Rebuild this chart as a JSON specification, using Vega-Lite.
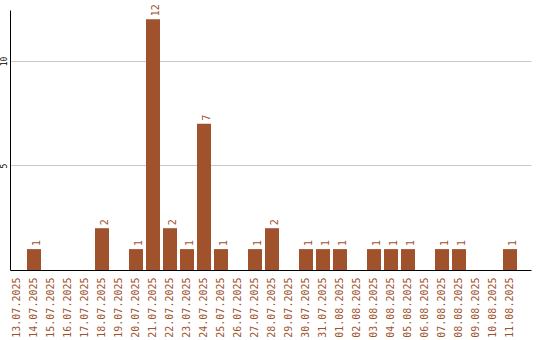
{
  "$schema": "https://vega.github.io/schema/vega-lite/v6.json",
  "width": 521,
  "height": 260,
  "autosize": "none",
  "padding": {"left": 10, "top": 10, "right": 9, "bottom": 70},
  "background": "white",
  "config": {"view": {"stroke": null}, "font": "DejaVu Sans Mono"},
  "data": {
    "values": [
      {"date": "13.07.2025", "count": 0},
      {"date": "14.07.2025", "count": 1},
      {"date": "15.07.2025", "count": 0},
      {"date": "16.07.2025", "count": 0},
      {"date": "17.07.2025", "count": 0},
      {"date": "18.07.2025", "count": 2},
      {"date": "19.07.2025", "count": 0},
      {"date": "20.07.2025", "count": 1},
      {"date": "21.07.2025", "count": 12},
      {"date": "22.07.2025", "count": 2},
      {"date": "23.07.2025", "count": 1},
      {"date": "24.07.2025", "count": 7},
      {"date": "25.07.2025", "count": 1},
      {"date": "26.07.2025", "count": 0},
      {"date": "27.07.2025", "count": 1},
      {"date": "28.07.2025", "count": 2},
      {"date": "29.07.2025", "count": 0},
      {"date": "30.07.2025", "count": 1},
      {"date": "31.07.2025", "count": 1},
      {"date": "01.08.2025", "count": 1},
      {"date": "02.08.2025", "count": 0},
      {"date": "03.08.2025", "count": 1},
      {"date": "04.08.2025", "count": 1},
      {"date": "05.08.2025", "count": 1},
      {"date": "06.08.2025", "count": 0},
      {"date": "07.08.2025", "count": 1},
      {"date": "08.08.2025", "count": 1},
      {"date": "09.08.2025", "count": 0},
      {"date": "10.08.2025", "count": 0},
      {"date": "11.08.2025", "count": 1}
    ]
  },
  "encoding": {
    "x": {
      "field": "date",
      "type": "ordinal",
      "sort": null,
      "scale": {"paddingInner": 0.1765, "paddingOuter": 0.4118, "align": 0},
      "axis": {
        "title": null,
        "labelAngle": -90,
        "labelColor": "#a0522d",
        "labelFontSize": 10,
        "labelFont": "DejaVu Sans Mono",
        "labelPadding": 7,
        "ticks": false,
        "domainColor": "#000000",
        "domainWidth": 1,
        "labelOverlap": false
      }
    },
    "y": {
      "field": "count",
      "type": "quantitative",
      "scale": {"domain": [0, 12.44], "nice": false},
      "axis": {
        "title": null,
        "values": [5, 10],
        "labelAngle": -90,
        "labelFontSize": 8,
        "labelColor": "#000000",
        "labelFont": "DejaVu Sans Mono",
        "labelPadding": 2,
        "ticks": false,
        "domainColor": "#000000",
        "grid": true,
        "gridColor": "#c8c8c8",
        "gridWidth": 1
      }
    }
  },
  "layer": [
    {"mark": {"type": "bar", "color": "#a0522d"}},
    {
      "transform": [{"filter": "datum.count > 0"}],
      "mark": {
        "type": "text",
        "angle": -90,
        "align": "left",
        "baseline": "middle",
        "dx": 3,
        "dy": 3,
        "fontSize": 10,
        "font": "DejaVu Sans Mono",
        "color": "#a0522d"
      },
      "encoding": {"text": {"field": "count", "type": "quantitative"}}
    }
  ]
}
